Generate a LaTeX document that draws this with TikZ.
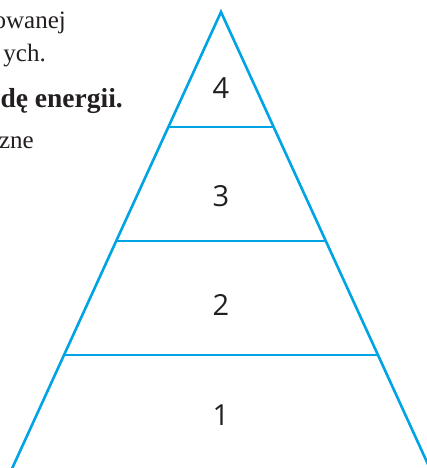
\documentclass[tikz,border=0pt]{standalone}
\usepackage{fontspec}
\setmainfont{Liberation Serif}
\newfontfamily\numfont{Open Sans}
\usetikzlibrary{calc}
\definecolor{pyrblue}{HTML}{00A3E4}
\definecolor{txtgray}{HTML}{231F20}
\tikzset{
  edge/.style={draw=pyrblue, line width=2.6pt},
  level/.style={font=\numfont\fontsize{29}{30}\selectfont, text=txtgray, inner sep=0pt},
  body/.style={font=\fontsize{25}{30}\selectfont, text=txtgray, anchor=base east, inner sep=0pt},
  bodybold/.style={body, font=\bfseries\fontsize{27.5}{30}\selectfont}
}
\begin{document}
\begin{tikzpicture}[x=1pt,y=-1pt]
\useasboundingbox (0,0) rectangle (427,468);
\clip (0,0) rectangle (427,468);
% margin text (cropped page)
\node[body] (t1) at (66,29) {owanej};
\node[body] (t2) at (46,62) {ych.};
\node[bodybold] (t3) at (123,108) {dę energii.};
\node[body] (t4) at (34,148) {zne};
% pyramid
\coordinate (apex) at (221,12);
\coordinate (bl) at (11.4,470);
\coordinate (br) at (430.6,470);
\coordinate (l1) at ($(apex)!0.2511!(bl)$);
\coordinate (r1) at ($(apex)!0.2511!(br)$);
\coordinate (l2) at ($(apex)!0.5!(bl)$);
\coordinate (r2) at ($(apex)!0.5!(br)$);
\coordinate (l3) at ($(apex)!0.7489!(bl)$);
\coordinate (r3) at ($(apex)!0.7489!(br)$);
\draw[edge, line join=miter] (bl) -- (apex) -- (br);
\draw[edge] (l1) -- (r1);
\draw[edge] (l2) -- (r2);
\draw[edge] (l3) -- (r3);
\node[level] (n4) at (221,88) {4};
\node[level] (n3) at (221,196) {3};
\node[level] (n2) at (221,305) {2};
\node[level] (n1) at (221,415) {1};
\end{tikzpicture}
\end{document}
